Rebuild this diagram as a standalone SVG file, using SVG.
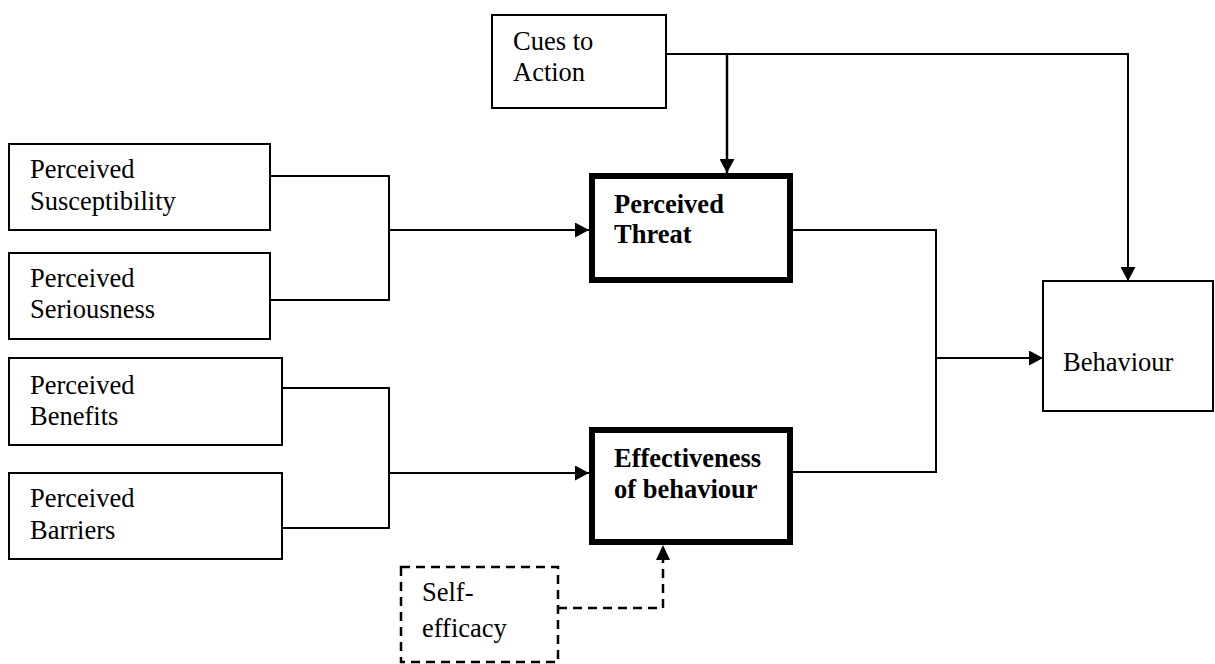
<svg xmlns="http://www.w3.org/2000/svg" width="1215" height="664" viewBox="0 0 1215 664">
<style>
.box{fill:#fff;stroke:#000;stroke-width:2}
.thick{fill:#fff;stroke:#000;stroke-width:6}
.dash{fill:#fff;stroke:#000;stroke-width:2.5;stroke-dasharray:9,6}
.t{font-family:"Liberation Serif","Times New Roman",serif;font-size:26.5px;fill:#000}
.b{font-weight:bold}
.c{fill:none;stroke:#000;stroke-width:2}
.cd{fill:none;stroke:#000;stroke-width:2.5;stroke-dasharray:9,6}
</style>
<defs>
<marker id="ah" markerWidth="14" markerHeight="15" refX="14" refY="7.5" orient="auto" markerUnits="userSpaceOnUse">
<path d="M0,0 L14,7.5 L0,15 Z" fill="#000"/>
</marker>
</defs>
<rect width="1215" height="664" fill="#fff"/>
<g id="connectors">
<path class="c" d="M666,54 H1128 V281" marker-end="url(#ah)"/>
<path class="c" d="M727,54 V173" marker-end="url(#ah)" style="stroke-width:2.5"/>
<path class="c" d="M270,176 H389 V300 H270"/>
<path class="c" d="M389,230 H589" marker-end="url(#ah)"/>
<path class="c" d="M282,388 H389 V528 H282"/>
<path class="c" d="M389,473 H589" marker-end="url(#ah)"/>
<path class="c" d="M793,230 H936 V472 H793"/>
<path class="c" d="M936,358 H1043" marker-end="url(#ah)"/>
<path class="cd" d="M558,608 H663 V560"/>
<path d="M656,560 L663,545 L670,560 Z" fill="#000"/>
</g>
<g id="cues">
<rect class="box" x="492" y="15" width="174" height="93"/>
<text class="t" x="513" y="50">Cues to</text>
<text class="t" x="513" y="81">Action</text>
</g>
<g id="susceptibility">
<rect class="box" x="9" y="144" width="261" height="86"/>
<text class="t" x="30" y="178">Perceived</text>
<text class="t" x="30" y="210">Susceptibility</text>
</g>
<g id="seriousness">
<rect class="box" x="9" y="253" width="261" height="86"/>
<text class="t" x="30" y="287">Perceived</text>
<text class="t" x="30" y="318">Seriousness</text>
</g>
<g id="benefits">
<rect class="box" x="9" y="358" width="273" height="87"/>
<text class="t" x="30" y="394">Perceived</text>
<text class="t" x="30" y="425">Benefits</text>
</g>
<g id="barriers">
<rect class="box" x="9" y="473" width="273" height="86"/>
<text class="t" x="30" y="507">Perceived</text>
<text class="t" x="30" y="539">Barriers</text>
</g>
<g id="threat">
<rect class="thick" x="592" y="176" width="198" height="104"/>
<text class="t b" x="614" y="213">Perceived</text>
<text class="t b" x="614" y="243">Threat</text>
</g>
<g id="effectiveness">
<rect class="thick" x="592" y="430" width="198" height="112"/>
<text class="t b" x="614" y="467">Effectiveness</text>
<text class="t b" x="614" y="498">of behaviour</text>
</g>
<g id="behaviour">
<rect class="box" x="1043" y="281" width="170" height="130"/>
<text class="t" x="1063" y="371">Behaviour</text>
</g>
<g id="selfefficacy">
<rect class="dash" x="401" y="567" width="157" height="95"/>
<text class="t" x="422" y="601">Self-</text>
<text class="t" x="422" y="637">efficacy</text>
</g>
</svg>
